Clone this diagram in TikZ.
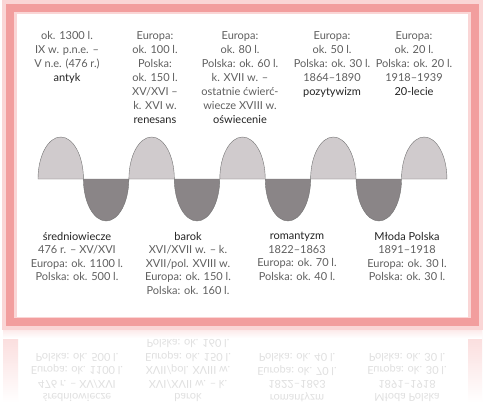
\documentclass[tikz,border=0pt]{standalone}
\usepackage{fontspec}
\setmainfont{Lato}
\definecolor{framepink}{RGB}{242,158,158}
\definecolor{glowpink}{RGB}{250,214,214}
\definecolor{hump}{RGB}{208,203,205}
\definecolor{trough}{RGB}{138,133,135}
\definecolor{txt}{RGB}{95,95,95}
\definecolor{eratxt}{RGB}{35,35,35}
\tikzset{
  info/.style={align=center,inner sep=0pt,anchor=north,text=txt,font=\fontsize{11}{14}\selectfont},
  infolow/.style={info,font=\fontsize{11}{13.5}\selectfont},
  lobe/.style={draw=black!55,line width=0.4pt},
}
\newcommand{\era}[1]{\textcolor{eratxt}{#1}}
\newcommand{\sredniotxt}{\era{średniowiecze}\\476 r. -- XV/XVI\\Europa: ok. 1100 l.\\Polska: ok. 500 l.}
\newcommand{\baroktxt}{\era{barok}\\XVI/XVII w. -- k.\\XVII/pol. XVIII w.\\Europa: ok. 150 l.\\Polska: ok. 160 l.}
\newcommand{\romantxt}{\era{romantyzm}\\1822--1863\\Europa: ok. 70 l.\\Polska: ok. 40 l.}
\newcommand{\mlodatxt}{\era{Młoda Polska}\\1891--1918\\Europa: ok. 30 l.\\Polska: ok. 30 l.}

\begin{document}
\begin{tikzpicture}[x=1pt,y=-1pt]
\useasboundingbox (0,0) rectangle (484,408);
\def\u{22.72pt}
\def\h{42pt}
% frame
\fill[white] (0,0) rectangle (484,408);
\shade[top color=glowpink,bottom color=white] (3,322) rectangle (18,402);
\shade[top color=glowpink,bottom color=white] (468,322) rectangle (482,402);
\shade[top color=glowpink,bottom color=white] (3,322) rectangle (482,338);
\draw[glowpink,line width=16pt] (10,8) rectangle (475,322);
\draw[framepink,line width=8pt] (10,8) rectangle (475,322);
\fill[white] (17,14) rectangle (468,317);

% humps
\draw[lobe,fill=hump] (38,179) arc[start angle=180,end angle=0,x radius=\u,y radius=\h] -- cycle;
\draw[lobe,fill=hump] (128.9,179) arc[start angle=180,end angle=0,x radius=\u,y radius=\h] -- cycle;
\draw[lobe,fill=hump] (219.8,179) arc[start angle=180,end angle=0,x radius=\u,y radius=\h] -- cycle;
\draw[lobe,fill=hump] (310.6,179) arc[start angle=180,end angle=0,x radius=\u,y radius=\h] -- cycle;
\draw[lobe,fill=hump] (401.5,179) arc[start angle=180,end angle=0,x radius=\u,y radius=\h] -- cycle;
% troughs
\draw[lobe,fill=trough] (83.4,179) arc[start angle=180,end angle=360,x radius=\u,y radius=\h] -- cycle;
\draw[lobe,fill=trough] (174.3,179) arc[start angle=180,end angle=360,x radius=\u,y radius=\h] -- cycle;
\draw[lobe,fill=trough] (265.2,179) arc[start angle=180,end angle=360,x radius=\u,y radius=\h] -- cycle;
\draw[lobe,fill=trough] (356.1,179) arc[start angle=180,end angle=360,x radius=\u,y radius=\h] -- cycle;

% upper labels
\node[info] (antyk) at (67,31) {ok. 1300 l.\\IX w. p.n.e. --\\V n.e. (476 r.)\\\era{antyk}};
\node[info] (renesans) at (155,31) {Europa:\\ok. 100 l.\\Polska:\\ok. 150 l.\\XV/XVI --\\k. XVI w.\\\era{renesans}};
\node[info] (oswiecenie) at (240,31) {Europa:\\ok. 80 l.\\Polska: ok. 60 l.\\k. XVII w. --\\ostatnie ćwierć-\\wiecze XVIII w.\\\era{oświecenie}};
\node[info] (pozytywizm) at (332,31) {Europa:\\ok. 50 l.\\Polska: ok. 30 l.\\1864--1890\\\era{pozytywizm}};
\node[info] (dwudziestolecie) at (414,31) {Europa:\\ok. 20 l.\\Polska: ok. 20 l.\\1918--1939\\\era{20-lecie}};

% lower labels
\node[infolow] (sredniowiecze) at (77,232) {\sredniotxt};
\node[infolow] (barok) at (188,232) {\baroktxt};
\node[infolow] (romantyzm) at (297,232) {\romantxt};
\node[infolow] (mloda) at (407,232) {\mlodatxt};

% reflection
\begin{scope}[shift={(0,634)},yscale=-1,transform shape]
\node[infolow,text=black!12] (sredniowiecze') at (77,232) {\let\era\relax\sredniotxt};
\node[infolow,text=black!12] (barok') at (188,232) {\let\era\relax\baroktxt};
\node[infolow,text=black!12] (romantyzm') at (297,232) {\let\era\relax\romantxt};
\node[infolow,text=black!12] (mloda') at (407,232) {\let\era\relax\mlodatxt};
\end{scope}
\end{tikzpicture}
\end{document}
